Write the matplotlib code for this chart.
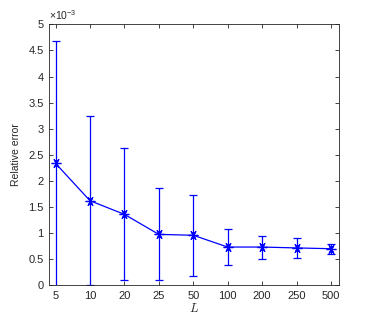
import matplotlib
matplotlib.use('Agg')
import matplotlib.pyplot as plt
from matplotlib.ticker import FuncFormatter
import numpy as np

plt.rcParams['font.family'] = ['Liberation Sans', 'DejaVu Sans']
plt.rcParams['mathtext.fontset'] = 'cm'

# data
L_labels = ['5', '10', '20', '25', '50', '100', '200', '250', '500']
rel_err = [2.334e-3, 1.618e-3, 1.356e-3, 0.972e-3, 0.955e-3, 0.729e-3, 0.729e-3, 0.712e-3, 0.697e-3]
err_bar = [2.353e-3, 1.625e-3, 1.266e-3, 0.884e-3, 0.780e-3, 0.352e-3, 0.220e-3, 0.200e-3, 0.095e-3]

AX_COL = (0.15, 0.15, 0.15)

fig = plt.figure(figsize=(3.74, 3.21), dpi=100)
ax = fig.add_axes([0.132, 0.112, 0.774, 0.812])

xpos = np.arange(1, len(L_labels) + 1)
ax.errorbar(xpos, rel_err, yerr=err_bar, color='blue', marker=(6, 2, 90),
            markersize=7, linewidth=0.9, elinewidth=0.9, capsize=3,
            capthick=0.9, markeredgewidth=0.9)

ax.set_xlim(0.82, 9.23)
ax.set_ylim(0, 5e-3)
ax.set_xticks(xpos)
ax.set_xticklabels(L_labels)
ax.set_yticks(np.arange(0, 5.01e-3, 0.5e-3))
ax.yaxis.set_major_formatter(FuncFormatter(lambda v, p: '%g' % round(v * 1e3, 2)))

ax.tick_params(direction='in', length=3, width=0.6, labelsize=8,
               colors=AX_COL, top=True, right=True, pad=4)
for s in ax.spines.values():
    s.set_color(AX_COL)
    s.set_linewidth(0.6)

ax.text(0.0, 1.01, r'$\mathregular{\times 10^{-3}}$', transform=ax.transAxes,
        fontsize=7.5, color=AX_COL, ha='left', va='bottom')

ax.set_xlabel(r'$L$', fontsize=9, color=AX_COL, labelpad=1)
ax.set_ylabel('Relative error', fontsize=7.5, color=AX_COL, labelpad=5)

fig.savefig('out.png', dpi=100)
